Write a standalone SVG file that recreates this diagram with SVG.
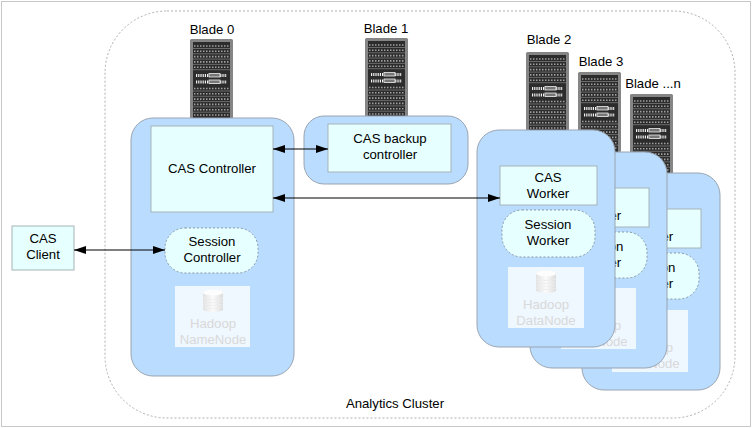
<svg xmlns="http://www.w3.org/2000/svg" width="752" height="428" viewBox="0 0 752 428">
<style>
text{font-family:"Liberation Sans",Arial,sans-serif;font-size:13.2px;fill:#000;text-anchor:middle}
.panel{fill:#b9dcff;stroke:#9aa5b1;stroke-width:1}
.box{fill:#e6ffff;stroke:#a6b4b8;stroke-width:1}
.sess{fill:#e6ffff;stroke:#8a9aa5;stroke-width:1;stroke-dasharray:2 2}
.had{fill:#eff7ff}
.hadt{fill:#d9d9d9;font-size:13.2px}
.conn{stroke:#000;stroke-width:1;fill:none;marker-start:url(#ah);marker-end:url(#ah)}
</style>
<defs>
<marker id="ah" viewBox="0 0 12 8" refX="12" refY="4" markerWidth="12" markerHeight="8" markerUnits="userSpaceOnUse" orient="auto-start-reverse"><path d="M0 0L12 4L0 8z" fill="#000"/></marker>
<linearGradient id="cyl" x1="0" x2="1" y1="0" y2="0"><stop offset="0" stop-color="#e2e2e2"/><stop offset=".5" stop-color="#fbfbfb"/><stop offset="1" stop-color="#dcdcdc"/></linearGradient>
<symbol id="rack" width="43" height="80" viewBox="0 0 43 80" overflow="visible">
<rect x="0" y="0" width="43" height="80" rx="1.5" fill="#858585"/>
<rect x="3" y="3" width="37" height="77" fill="#2c2c2c"/>
<g stroke="#a0a0a0" stroke-width="1.6" fill="none">
<path d="M4 7H39M4 12.300H39M4 17.600H39M4 22.900H39M4 28.200H39M4 49.500H39M4 54.800H39M4 60.100H39M4 65.400H39M4 70.700H39M4 76H39" stroke-dasharray="1.500 1.500"/>
</g>
<g stroke="#6a6a6a" stroke-width="1"><path d="M3 9.500H40M3 14.800H40M3 20.100H40M3 25.400H40M3 30.700H40M3 52H40M3 57.300H40M3 62.600H40M3 67.900H40M3 73.200H40"/></g>
<g stroke="#f2f2f2" stroke-width="3" fill="none"><path d="M6 36.500H37M6 43H37" stroke-dasharray="1.200 1"/></g>
<rect x="19" y="34.500" width="11" height="3.500" fill="#777" stroke="#eee" stroke-width=".8"/>
<rect x="19" y="41" width="11" height="3.500" fill="#777" stroke="#eee" stroke-width=".8"/>
</symbol>
<symbol id="db" width="22" height="24" viewBox="0 0 22 24" overflow="visible">
<path d="M1 3.500C1 .5 21 .5 21 3.500V20.500C21 23.500 1 23.500 1 20.500Z" fill="url(#cyl)"/>
<ellipse cx="11" cy="3.500" rx="10" ry="3" fill="#fdfdfd"/>
<path d="M1 9C6 11 16 11 21 9M1 12C6 14 16 14 21 12M1 15C6 17 16 17 21 15M1 18C6 20 16 20 21 18" stroke="#ececec" stroke-width=".8" fill="none"/>
</symbol>
</defs>
<rect x="0" y="0" width="752" height="428" fill="#fff"/>
<rect x="1.500" y="1.500" width="749" height="425" fill="none" stroke="#c8c8c8"/>
<g id="cluster">
<rect x="105" y="11" width="630" height="407" rx="62" fill="none" stroke="#b0b0b0" stroke-dasharray="2 2"/>
<text x="395" y="408">Analytics Cluster</text>
</g>
<g id="client">
<rect class="box" x="12" y="226" width="62" height="44"/>
<text x="43" y="243">CAS</text><text x="43" y="259">Client</text>
</g>
<g id="blade-n">
<text x="653" y="88">Blade ...n</text>
<use href="#rack" x="630" y="94"/>
<rect class="panel" x="582" y="173" width="138" height="217" rx="22"/>
<rect class="box" x="604" y="209" width="97" height="39"/>
<text x="652" y="225">CAS</text><text x="652" y="241">Worker</text>
<rect class="sess" x="606" y="253" width="93" height="46" rx="20"/>
<text x="652" y="272">Session</text><text x="652" y="288">Worker</text>
<rect class="had" x="612" y="310" width="76" height="62"/>
<use href="#db" x="639" y="313"/>
<text class="hadt" x="650" y="352">Hadoop</text><text class="hadt" x="650" y="368">DataNode</text>
</g>
<g id="blade-3">
<text x="601" y="66">Blade 3</text>
<use href="#rack" x="578" y="72"/>
<rect class="panel" x="530" y="152" width="137" height="216" rx="22"/>
<rect class="box" x="552" y="188" width="97" height="39"/>
<text x="600" y="204">CAS</text><text x="600" y="220">Worker</text>
<rect class="sess" x="554" y="232" width="93" height="46" rx="20"/>
<text x="600" y="251">Session</text><text x="600" y="267">Worker</text>
<rect class="had" x="561" y="288" width="75" height="61"/>
<use href="#db" x="587" y="291"/>
<text class="hadt" x="598" y="330">Hadoop</text><text class="hadt" x="598" y="346">DataNode</text>
</g>
<g id="blade-2">
<text x="549" y="44">Blade 2</text>
<use href="#rack" x="526" y="52"/>
<rect class="panel" x="477" y="130" width="138" height="217" rx="22"/>
<rect class="box" x="500" y="166" width="97" height="39"/>
<text x="548" y="182">CAS</text><text x="548" y="198">Worker</text>
<rect class="sess" x="502" y="210" width="93" height="47" rx="20"/>
<text x="548" y="229">Session</text><text x="548" y="245">Worker</text>
<rect class="had" x="508" y="267" width="76" height="61"/>
<use href="#db" x="535" y="270"/>
<text class="hadt" x="546" y="309">Hadoop</text><text class="hadt" x="546" y="325">DataNode</text>
</g>
<g id="blade-1">
<text x="386" y="33">Blade 1</text>
<use href="#rack" x="365" y="38"/>
<rect class="panel" x="304" y="116" width="164" height="68" rx="20"/>
<rect class="box" x="328" y="124" width="123" height="48"/>
<text x="390" y="143">CAS backup</text><text x="390" y="159">controller</text>
</g>
<g id="blade-0">
<text x="212" y="34">Blade 0</text>
<use href="#rack" x="190" y="39"/>
<rect class="panel" x="131" y="118" width="163" height="258" rx="22"/>
<rect class="box" x="151" y="126" width="122" height="86"/>
<text x="212" y="173">CAS Controller</text>
<rect class="sess" x="165" y="228" width="93" height="45" rx="20"/>
<text x="212" y="246">Session</text><text x="212" y="262">Controller</text>
<rect class="had" x="175" y="286" width="75" height="61"/>
<use href="#db" x="202" y="289"/>
<text class="hadt" x="213" y="328">Hadoop</text><text class="hadt" x="213" y="344">NameNode</text>
</g>
<g id="connectors">
<path class="conn" d="M74 250H165"/>
<path class="conn" d="M273 149H328"/>
<path class="conn" d="M273 198H500"/>
</g>
</svg>
